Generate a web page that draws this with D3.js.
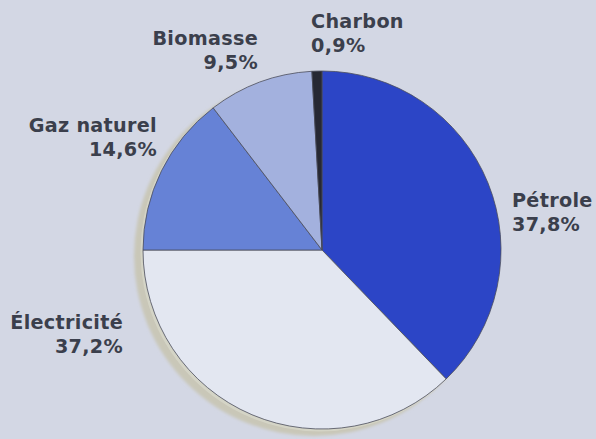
<!DOCTYPE html>
<html><head><meta charset="utf-8">
<script src="https://cdn.jsdelivr.net/npm/d3@7"></script>
<style>
html,body{margin:0;padding:0;background:#d3d7e4;}
svg{display:block;}
text{font-family:"DejaVu Sans",sans-serif;font-weight:700;fill:#3b3f4c;}
</style></head>
<body>
<svg id="c" width="596" height="439"></svg>
<script>
// Data
const categories = ["Pétrole", "Électricité", "Gaz naturel", "Biomasse", "Charbon"];
const values = [37.8, 37.2, 14.6, 9.5, 0.9];
const valueLabels = ["37,8%", "37,2%", "14,6%", "9,5%", "0,9%"];

// Styles / layout (not data)
const colors = ["#2c45c6", "#e3e7f1", "#6682d6", "#a3b1de", "#262833"];
const labelLayout = {
  "Pétrole":     {x: 512, y: 207, anchor: "start"},
  "Électricité": {x: 123, y: 329, anchor: "end"},
  "Gaz naturel": {x: 157, y: 132, anchor: "end"},
  "Biomasse":    {x: 258, y: 45,  anchor: "end"},
  "Charbon":     {x: 311, y: 28,  anchor: "start"}
};
const lineGap = 23.5, fontSize = 19.2;

const svg = d3.select("#c");
const W = 596, H = 439;
svg.append("rect").attr("width", W).attr("height", H).attr("fill", "#d3d7e4");

const cx = 322, cy = 250, R = 179;

const defs = svg.append("defs");
const f = defs.append("filter").attr("id", "blur").attr("x", "-20%").attr("y", "-20%").attr("width", "140%").attr("height", "140%");
f.append("feGaussianBlur").attr("stdDeviation", 1.6);

// shadow
svg.append("circle")
  .attr("cx", cx - 8).attr("cy", cy + 6).attr("r", R + 1)
  .attr("fill", "#c9c7b8")
  .attr("filter", "url(#blur)");
svg.append("circle")
  .attr("cx", cx - 2).attr("cy", cy + 2).attr("r", R + 0.5)
  .attr("fill", "#dcdccf")
  .attr("opacity", 0.6);

const pie = d3.pie().sort(null).value(d => d.v).startAngle(0).endAngle(2 * Math.PI);
const data = categories.map((c, i) => ({c, v: values[i], i}));
const arcs = pie(data);
const arc = d3.arc().innerRadius(0).outerRadius(R);

const g = svg.append("g").attr("transform", `translate(${cx},${cy})`);
g.selectAll("path").data(arcs).enter().append("path")
  .attr("d", arc)
  .attr("fill", d => colors[d.data.i])
  .attr("stroke", "#4a4d5c")
  .attr("stroke-width", 0.8)
  .attr("stroke-linejoin", "round");

// labels
const lg = svg.append("g");
categories.forEach((c, i) => {
  const L = labelLayout[c];
  lg.append("text")
    .attr("x", L.x).attr("y", L.y)
    .attr("text-anchor", L.anchor)
    .attr("font-size", fontSize)
    .attr("letter-spacing", 0.3)
    .text(c);
  lg.append("text")
    .attr("x", L.x).attr("y", L.y + lineGap)
    .attr("text-anchor", L.anchor)
    .attr("font-size", fontSize)
    .attr("letter-spacing", 0.3)
    .text(valueLabels[i]);
});
</script>
</body></html>
